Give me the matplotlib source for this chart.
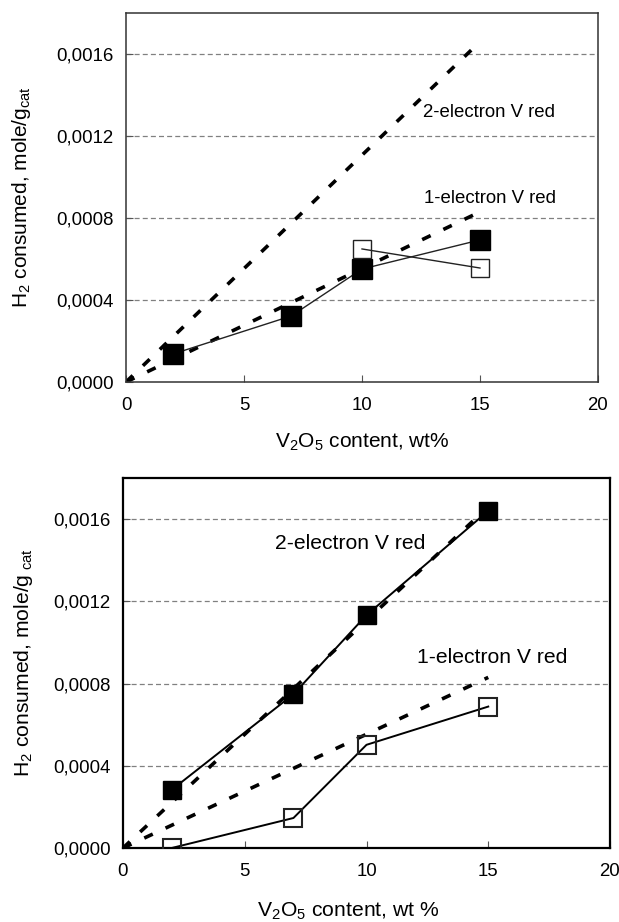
import matplotlib
matplotlib.use("Agg")
import matplotlib.pyplot as plt

plt.rcParams['font.family'] = ['Liberation Sans', 'DejaVu Sans']
plt.rcParams['mathtext.fontset'] = 'custom'
plt.rcParams['mathtext.rm'] = 'Liberation Sans'
plt.rcParams['mathtext.it'] = 'Liberation Sans:italic'

# theoretical lines (both panels)
theory_x = [0, 15]
two_electron = [0, 0.00166]
one_electron = [0, 0.00083]

# top panel
top_filled_x = [2, 7, 10, 15]
top_filled_y = [0.000137, 0.000322, 0.000551, 0.000693]
top_open_x = [10, 15]
top_open_y = [0.000649, 0.000556]

# bottom panel
bot_filled_x = [2, 7, 10, 15]
bot_filled_y = [0.000283, 0.000748, 0.001133, 0.00164]
bot_open_x = [2, 7, 10, 15]
bot_open_y = [0.0, 0.000146, 0.000502, 0.000688]

xticks = [0, 5, 10, 15, 20]
yticks = [0, 0.0004, 0.0008, 0.0012, 0.0016]
ytick_labels = ['0,0000', '0,0004', '0,0008', '0,0012', '0,0016']

fig = plt.figure(figsize=(6.19, 9.22), dpi=100)
ax1 = fig.add_axes([126/619, 1-382/922, 472/619, 369/922])
ax2 = fig.add_axes([123/619, 1-848/922, 487/619, 370/922])

dash = (0, (2.6, 3.9))


def setup(ax, fs_tick, fs_lab, xlabel, ylabel, spine_lw, spine_col):
    ax.set_xlim(0, 20)
    ax.set_ylim(0, 0.0018)
    ax.set_xticks(xticks)
    ax.set_yticks(yticks)
    ax.set_yticklabels(ytick_labels)
    ax.tick_params(direction='in', length=5, width=0.8, labelsize=fs_tick,
                   color='#555555')
    ax.tick_params(axis='x', pad=11)
    ax.tick_params(axis='y', pad=9)
    for y in yticks[1:]:
        ax.axhline(y, color='#808080', lw=0.9, ls=(0, (4, 2.5)), zorder=1)
    for s in ax.spines.values():
        s.set_linewidth(spine_lw)
        s.set_color(spine_col)
    ax.set_xlabel(xlabel, fontsize=fs_lab)
    ax.set_ylabel(ylabel, fontsize=fs_lab)


# ---- top
ax1.plot(theory_x, two_electron, color='black', lw=2.6, ls=dash, zorder=2)
ax1.plot(theory_x, one_electron, color='black', lw=2.6, ls=dash, zorder=2)
ax1.plot(top_filled_x, top_filled_y, color='#222222', lw=1.0, marker='s', ms=14.5,
         mfc='black', mec='black', zorder=3)
ax1.plot(top_open_x, top_open_y, color='#222222', lw=1.0, marker='s', ms=12.5,
         mfc='none', mec='#222222', mew=1.0, zorder=3)
ax1.text(12.58, 0.001317, '2-electron V red', fontsize=13.4, va='center', ha='left')
ax1.text(12.63, 0.000893, '1-electron V red', fontsize=13.4, va='center', ha='left')
setup(ax1, 13.4, 15, 'V$_2$O$_5$ content, wt%', 'H$_2$ consumed, mole/g$_{\\rm cat}$',
      1.1, '#333333')
ax1.yaxis.set_label_coords(-0.197, 0.5)
ax1.xaxis.set_label_coords(0.5, -0.135)

# ---- bottom
ax2.plot(theory_x, two_electron, color='black', lw=2.6, ls=dash, zorder=2)
ax2.plot(theory_x, one_electron, color='black', lw=2.6, ls=dash, zorder=2)
ax2.plot(bot_filled_x, bot_filled_y, color='black', lw=1.4, marker='s', ms=13.5,
         mfc='black', mec='black', zorder=3)
ax2.plot(bot_open_x, bot_open_y, color='black', lw=1.4, marker='s', ms=12.5,
         mfc='none', mec='#222222', mew=1.5, zorder=3)
ax2.text(6.24, 0.00148, '2-electron V red', fontsize=15.2, va='center', ha='left')
ax2.text(12.07, 0.000926, '1-electron V red', fontsize=15.2, va='center', ha='left')
setup(ax2, 13.4, 15.2, 'V$_2$O$_5$ content, wt %', 'H$_2$ consumed, mole/g$_{\\rm\\ cat}$',
      1.6, 'black')
ax2.yaxis.set_label_coords(-0.181, 0.5)
ax2.xaxis.set_label_coords(0.462, -0.142)

fig.savefig('out.png', dpi=100)
